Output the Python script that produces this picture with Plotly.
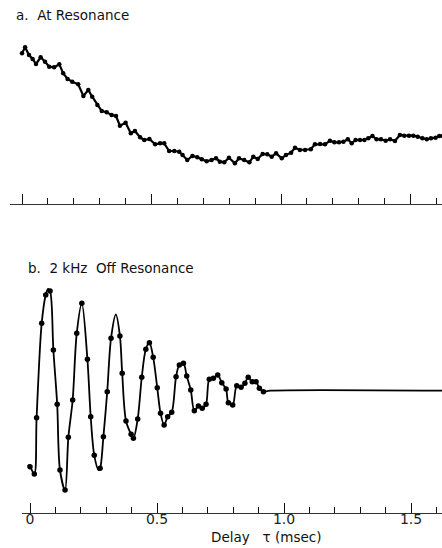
import plotly.graph_objects as go

# ---------------- data: panel a (At Resonance) ----------------
a_tau = [0.000, 0.012, 0.027, 0.041, 0.054, 0.072, 0.089, 0.105, 0.124, 0.144,
         0.159, 0.176, 0.194, 0.217, 0.237, 0.256, 0.271, 0.291, 0.308, 0.327,
         0.346, 0.363, 0.378, 0.400, 0.420, 0.436, 0.456, 0.472, 0.492, 0.514,
         0.533, 0.549, 0.568, 0.588, 0.607, 0.620, 0.638, 0.658, 0.677, 0.694,
         0.713, 0.732, 0.749, 0.764, 0.781, 0.799, 0.822, 0.838, 0.858, 0.878,
         0.893, 0.910, 0.929, 0.947, 0.964, 0.981, 1.003, 1.019, 1.039, 1.054,
         1.073, 1.093, 1.115, 1.131, 1.151, 1.170, 1.189, 1.206, 1.224, 1.241,
         1.258, 1.273, 1.288, 1.305, 1.322, 1.337, 1.353, 1.369, 1.386, 1.404,
         1.421, 1.440, 1.459, 1.476, 1.494, 1.511, 1.528, 1.546, 1.563, 1.579,
         1.597, 1.611, 1.625]
a_sig = [15.07, 15.67, 14.90, 14.50, 14.00, 14.67, 14.23, 13.73, 13.67, 13.97,
         13.07, 12.50, 12.23, 11.97, 10.80, 11.40, 10.73, 9.90, 9.30, 9.17,
         8.90, 8.80, 7.83, 8.13, 7.07, 7.30, 6.67, 6.40, 6.50, 5.97,
         6.07, 6.07, 5.30, 5.30, 5.23, 4.90, 4.40, 4.80, 4.67, 4.47,
         4.27, 4.40, 4.57, 4.23, 4.17, 4.63, 4.07, 4.57, 4.40, 4.17,
         4.73, 4.50, 5.00, 4.97, 4.73, 5.07, 4.57, 4.90, 5.13, 5.63,
         5.40, 5.40, 5.47, 5.97, 6.00, 5.97, 6.33, 6.17, 6.17, 6.23,
         6.47, 6.07, 6.40, 6.40, 6.40, 6.57, 6.80, 6.47, 6.47, 6.33,
         6.47, 6.30, 6.90, 6.83, 6.83, 6.83, 6.73, 6.57, 6.47, 6.57,
         6.63, 6.80, 6.80]

# ---------------- data: panel b (2 kHz Off Resonance) ----------------
b_tau = [0.000, 0.017, 0.026, 0.046, 0.062, 0.079, 0.092, 0.107, 0.118, 0.138,
         0.151, 0.168, 0.184, 0.204, 0.226, 0.239, 0.253, 0.276, 0.289, 0.304,
         0.319, 0.354, 0.363, 0.378, 0.398, 0.407, 0.424, 0.440, 0.456, 0.470,
         0.485, 0.501, 0.514, 0.528, 0.542, 0.558, 0.575, 0.588, 0.604, 0.617,
         0.633, 0.647, 0.663, 0.678, 0.693, 0.706, 0.722, 0.739, 0.755, 0.772,
         0.781, 0.798, 0.814, 0.831, 0.846, 0.859, 0.875, 0.890, 0.903, 0.919]
b_sig = [-7.60, -8.33, -2.70, 6.74, 9.57, 9.97, 4.07, -1.36, -7.93, -9.93,
         -4.66, -0.93, 5.74, 8.74, 3.14, -2.60, -6.46, -7.76, -4.60, -0.10,
         5.24, 5.47, 1.74, -3.03, -4.36, -4.76, -2.83, 1.34, 4.14, 4.80,
         3.34, 0.30, -2.26, -3.43, -2.60, -2.16, 1.40, 2.57, 2.74, 1.47,
         0.07, -2.00, -1.53, -1.76, -1.36, 1.14, 1.24, 1.57, 0.80, 0.17,
         -1.20, -1.43, 0.50, 0.34, 0.74, 1.34, 0.90, 0.90, 0.24, -0.10]

# extra points of the smooth drawn curve (extrema between dots, flat tail)
curve_extra_tau = [-0.009, 0.071, 0.270, 0.338, 0.945, 1.625]
curve_extra_sig = [-7.43, 10.17, -7.93, 7.62, 0.00, 0.00]

tick_major = [0, 0.5, 1.0, 1.5]
tick_text = ["0", "0.5", "1.0", "1.5"]

curve = sorted(zip(b_tau + curve_extra_tau, b_sig + curve_extra_sig))
curve_tau = [p[0] for p in curve]
curve_sig = [p[1] for p in curve]

W, H = 442, 548
fig = go.Figure()

fig.add_trace(go.Scatter(x=a_tau, y=a_sig, mode="lines+markers",
                         line=dict(color="black", width=2.2),
                         marker=dict(color="black", size=4.5),
                         xaxis="x", yaxis="y", showlegend=False, hoverinfo="skip"))
fig.add_trace(go.Scatter(x=curve_tau, y=curve_sig, mode="lines",
                         line=dict(color="black", width=1.8, shape="spline", smoothing=0.9),
                         xaxis="x2", yaxis="y2", showlegend=False, hoverinfo="skip"))
fig.add_trace(go.Scatter(x=b_tau, y=b_sig, mode="markers",
                         marker=dict(color="black", size=5.5),
                         xaxis="x2", yaxis="y2", showlegend=False, hoverinfo="skip"))
# invisible carrier so the tick-label axis is drawn
fig.add_trace(go.Scatter(x=tick_major, y=[0] * len(tick_major), mode="markers",
                         marker=dict(opacity=0), xaxis="x3", yaxis="y2",
                         showlegend=False, hoverinfo="skip"))

axis_common = dict(showgrid=False, zeroline=False, showline=True,
                   linecolor="#333", linewidth=1, ticks="inside",
                   tickvals=tick_major, ticklen=10, tickwidth=1.3, tickcolor="#111",
                   minor=dict(dtick=0.1, tick0=0, ticks="inside", ticklen=6,
                              tickwidth=1.1, tickcolor="#111"),
                   fixedrange=True)

xb_range = [-8 / 254, 412 / 254]

fig.update_layout(
    width=W, height=H,
    margin=dict(l=0, r=0, t=0, b=0),
    paper_bgcolor="white", plot_bgcolor="white",
    xaxis=dict(domain=[10 / W, 1], range=[-12 / 259, 420 / 259],
               showticklabels=False, anchor="y", **axis_common),
    yaxis=dict(domain=[1 - 204 / H, 1 - 40 / H], range=[0, 16.4],
               visible=False, anchor="x", fixedrange=True),
    xaxis2=dict(domain=[22 / W, 1], range=xb_range,
                showticklabels=False, anchor="y2", **axis_common),
    xaxis3=dict(overlaying="x2", anchor="free", position=1 - 509 / H,
                range=xb_range, showline=False, showgrid=False, zeroline=False,
                ticks="", tickvals=tick_major, ticktext=tick_text,
                tickfont=dict(family="DejaVu Sans", size=14, color="#222"),
                fixedrange=True),
    yaxis2=dict(domain=[1 - 513 / H, 1 - 280 / H], range=[-12.23, 11.07],
                visible=False, anchor="x2", fixedrange=True),
    annotations=[
        dict(text="a.  At Resonance", x=14 / W, y=1 - 15 / H, xref="paper", yref="paper",
             xanchor="left", yanchor="middle", showarrow=False,
             font=dict(family="DejaVu Sans", size=13.5, color="#111")),
        dict(text="b.  2 kHz  Off Resonance", x=26 / W, y=1 - 268 / H, xref="paper", yref="paper",
             xanchor="left", yanchor="middle", showarrow=False,
             font=dict(family="DejaVu Sans", size=13.5, color="#111")),
        dict(text="Delay   τ (msec)", x=266 / W, y=1 - 537 / H, xref="paper", yref="paper",
             xanchor="center", yanchor="middle", showarrow=False,
             font=dict(family="DejaVu Sans", size=13.5, color="#111")),
    ],
)

fig.write_html("out.html", config={"displayModeBar": False},
               post_script="document.body.style.margin='0';document.body.style.padding='0';")
